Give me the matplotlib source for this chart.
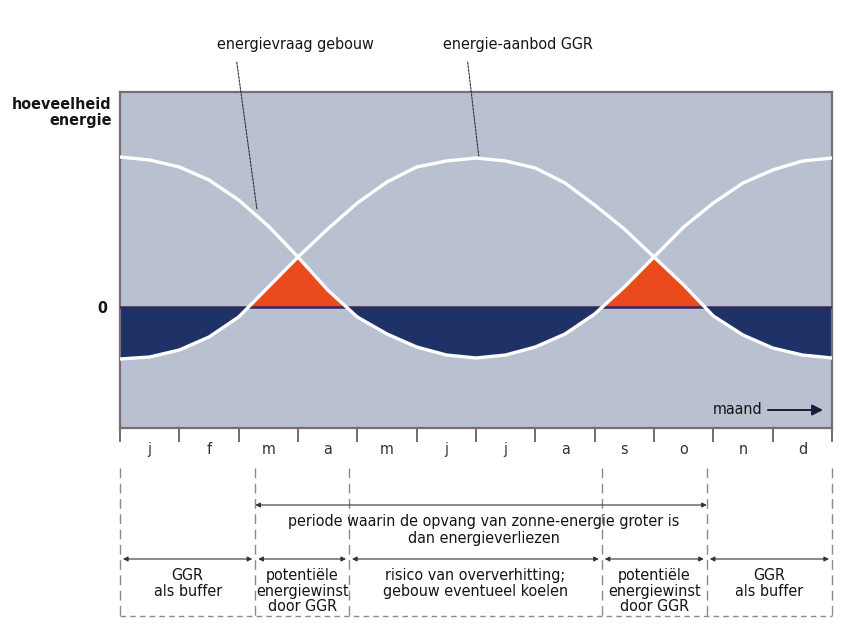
import numpy as np
import matplotlib
matplotlib.use("Agg")
import matplotlib.pyplot as plt
from matplotlib import font_manager as fm

# condensed font if one is installed, otherwise a narrow-ish sans
installed = {f.name: f for f in fm.fontManager.ttflist}
condensed = [f for f in fm.fontManager.ttflist if "ondensed" in f.fname or "Narrow" in f.fname]
STRETCH = "normal"
if any(n in installed for n in ["Liberation Sans Narrow", "Arial Narrow"]):
    FONT = [n for n in ["Liberation Sans Narrow", "Arial Narrow"] if n in installed][0]
elif any(f.name == "DejaVu Sans" for f in condensed):
    FONT, STRETCH = "DejaVu Sans", "condensed"
else:
    FONT = "Roboto"
plt.rcParams["font.family"] = [FONT, "DejaVu Sans"]
plt.rcParams["font.stretch"] = STRETCH

# half-month positions (0 = begin januari, 12 = eind december)
months_pos = np.arange(0, 12.5, 0.5)
# energievraag gebouw (hoog in de winter), waarden gelezen van de figuur
vraag = [150, 147, 140, 127, 107, 81, 50, 17, -10, -27, -40, -48, -51,
         -48, -40, -27, -7, 20, 50, 80, 104, 124, 137, 146, 149]
# energie-aanbod GGR (hoog in de zomer)
aanbod = [-52, -50, -43, -30, -10, 20, 50, 78, 104, 125, 140, 146, 149,
          146, 139, 124, 102, 78, 50, 22, -9, -28, -41, -48, -51]

month_labels = ["j", "f", "m", "a", "m", "j", "j", "a", "s", "o", "n", "d"]
bounds = [0, 2.28, 3.86, 8.12, 9.89, 12]
period_text = "periode waarin de opvang van zonne-energie groter is\ndan energieverliezen"
segment_texts = ["GGR\nals buffer",
                 "potentiële\nenergiewinst\ndoor GGR",
                 "risico van oververhitting;\ngebouw eventueel koelen",
                 "potentiële\nenergiewinst\ndoor GGR",
                 "GGR\nals buffer"]

BG = "#b9c0cf"
NAVY = "#1f3268"
RED = "#ea4a1c"
TXT = "#151515"
FS = 11.5

W, H = 861, 630
fig = plt.figure(figsize=(W / 100, H / 100), dpi=100)
fig.patch.set_facecolor("white")

# ---- main chart ----
ax = fig.add_axes([120 / W, (H - 428) / H, 712 / W, 336 / H])
ax.set_facecolor(BG)
ax.set_xlim(0, 12)
ax.set_ylim(-121, 215)

v = np.array(vraag, dtype=float)
a = np.array(aanbod, dtype=float)
low = np.minimum(v, a)
ax.fill_between(months_pos, 0, low, where=low < 0, interpolate=True,
                color=NAVY, lw=0, zorder=2)
ax.fill_between(months_pos, 0, low, where=low > 0, interpolate=True,
                color=RED, lw=0, zorder=2)
ax.axhline(0, color="#35285a", lw=1.8, zorder=3)
ax.plot(months_pos, v, color="white", lw=2.4, zorder=4, solid_joinstyle="round")
ax.plot(months_pos, a, color="white", lw=2.4, zorder=4, solid_joinstyle="round")

for s in ax.spines.values():
    s.set_color("#7a6e74")
    s.set_linewidth(1.6)

ax.set_yticks([0])
ax.set_yticklabels(["0"], fontsize=FS, fontweight="bold", color=TXT)
ax.tick_params(axis="y", length=0, pad=9)

ax.set_xticks(range(13))
ax.set_xticklabels([""] * 13)
ax.set_xticks(np.arange(0.5, 12, 1), minor=True)
ax.set_xticklabels(month_labels, minor=True, fontsize=FS, color="#333333")
ax.tick_params(axis="x", which="major", length=10, width=1.2, color="#555555",
               direction="out")
ax.tick_params(axis="x", which="minor", length=0, pad=10)

ax.text(-0.012, 0.985, "hoeveelheid\nenergie", transform=ax.transAxes,
        ha="right", va="top", fontsize=FS, fontweight="bold", color=TXT,
        linespacing=1.05)

ax.text(10.82, -103, "maand", ha="right", va="center", fontsize=FS, color=TXT)
ax.annotate("", xy=(11.85, -103), xytext=(10.92, -103),
            arrowprops=dict(arrowstyle="-|>", color="#1a1a3a", lw=1.4,
                            mutation_scale=16, shrinkA=0, shrinkB=0))

# labels above the chart with leader lines
lead = dict(arrowstyle="-", color="#333333", lw=0.8, ls=(0, (2, 1.2)),
            shrinkA=5, shrinkB=0)
ax.annotate("energievraag gebouw", xy=(2.31, 97), xytext=(2.95, 262),
            ha="center", va="center", fontsize=FS, color=TXT,
            annotation_clip=False, arrowprops=dict(lead, relpos=(0.12, 0)))
ax.annotate("energie-aanbod GGR", xy=(6.05, 149), xytext=(6.7, 262),
            ha="center", va="center", fontsize=FS, color=TXT,
            annotation_clip=False, arrowprops=dict(lead, relpos=(0.16, 0)))

# ---- periods below the chart (y in pixels from the top) ----
bx = fig.add_axes([120 / W, 0, 712 / W, (H - 428) / H])
bx.set_xlim(0, 12)
bx.set_ylim(H, 428)
bx.axis("off")

for b in bounds:
    bx.plot([b, b], [468, 616], color="#8a8a8a", lw=1.0, ls=(0, (7, 4)),
            clip_on=False)
bx.plot([0, 12], [616, 616], color="#8a8a8a", lw=1.0, ls=(0, (4, 3)),
        clip_on=False)

arrow_kw = dict(arrowstyle="<|-|>", color="#333333", lw=0.8,
                mutation_scale=7, shrinkA=0, shrinkB=0)
bx.annotate("", xy=(bounds[1], 505), xytext=(bounds[4], 505),
            arrowprops=arrow_kw, annotation_clip=False)
bx.text((bounds[1] + bounds[4]) / 2 + 0.05, 530, period_text, ha="center",
        va="center", fontsize=FS, color=TXT, linespacing=1.1)

for i, txt in enumerate(segment_texts):
    x0, x1 = bounds[i], bounds[i + 1]
    bx.annotate("", xy=(x0 + 0.05, 559), xytext=(x1 - 0.05, 559),
                arrowprops=arrow_kw, annotation_clip=False)
    bx.text((x0 + x1) / 2, 568, txt, ha="center", va="top", fontsize=FS,
            color=TXT, linespacing=1.05)

fig.savefig("out.png", dpi=100, facecolor="white")
